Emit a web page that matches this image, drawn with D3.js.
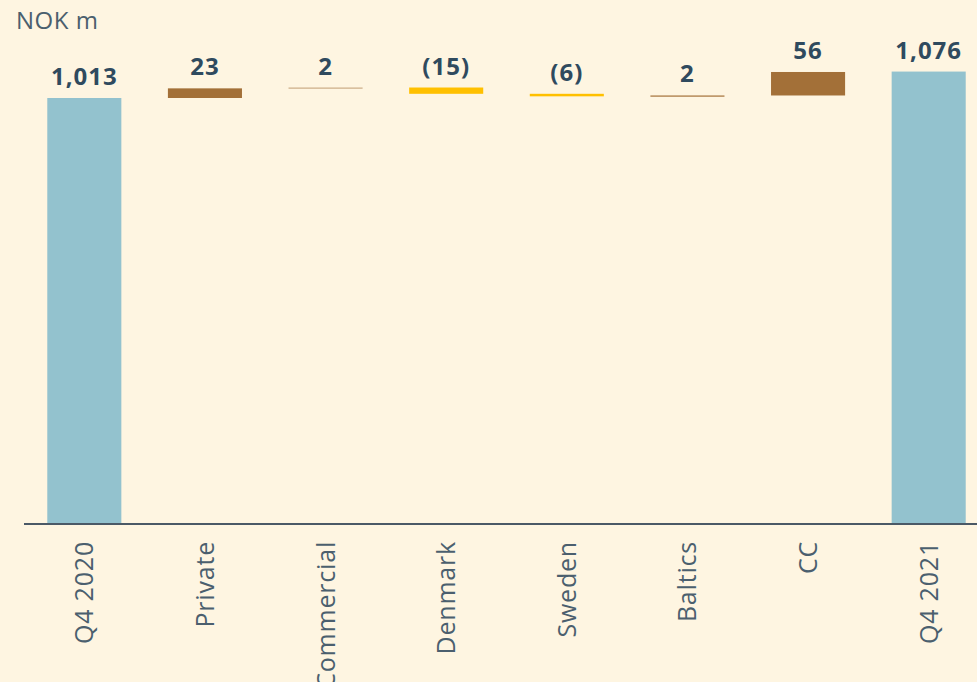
<!DOCTYPE html>
<html lang="en">
<head>
<meta charset="UTF-8">
<title>waterfall</title>
<script src="https://d3js.org/d3.v7.min.js"></script>
<style>
  body { margin: 0; background: #fef5e1; }
  svg { display: block; }
</style>
</head>
<body>
<svg width="977" height="682"></svg>
<script>
  // data
  var categories = ["Q4 2020", "Private", "Commercial", "Denmark", "Sweden", "Baltics", "CC", "Q4 2021"];
  var values = [1013, 23, 2, -15, -6, 2, 56, 1076];
  var kinds = ["total", "delta", "delta", "delta", "delta", "delta", "delta", "total"];
  var labels = ["1,013", "23", "2", "(15)", "(6)", "2", "56", "1,076"];
  var unitLabel = "NOK m";

  var colors = {
    total: "#93c2ce",
    up: "#a37038",
    down: "#ffc000"
  };

  var svg = d3.select("svg");
  var width = +svg.attr("width");
  var height = +svg.attr("height");
  var baseY = 523;

  // running totals for the floating bars
  var run = 0;
  var bars = categories.map(function (c, i) {
    var v = values[i], y0, y1;
    if (kinds[i] === "total") { y0 = 0; y1 = v; run = v; }
    else { y0 = run; y1 = run + v; run = y1; }
    return { name: c, value: v, kind: kinds[i], label: labels[i], lo: Math.min(y0, y1), hi: Math.max(y0, y1) };
  });

  var x = d3.scaleBand()
    .domain(categories)
    .range([24, 989])
    .paddingInner(0.386)
    .paddingOuter(0.193);

  var y = d3.scaleLinear()
    .domain([0, 1200])
    .range([baseY, baseY - 1200 * 425 / 1013]);

  svg.append("rect").attr("width", width).attr("height", height).attr("fill", "#fef5e1");

  svg.append("text")
    .attr("x", 16).attr("y", 29)
    .attr("font-family", "Open Sans, sans-serif")
    .attr("font-size", 24)
    .attr("letter-spacing", 0.5)
    .attr("fill", "#4b5f6e")
    .text(unitLabel);

  function barColor(d) {
    if (d.kind === "total") return colors.total;
    return d.value >= 0 ? colors.up : colors.down;
  }

  svg.append("g").selectAll("rect")
    .data(bars)
    .enter().append("rect")
    .attr("x", function (d) { return x(d.name); })
    .attr("width", x.bandwidth())
    .attr("y", function (d) { return y(d.hi); })
    .attr("height", function (d) { return Math.max(1.2, y(d.lo) - y(d.hi)); })
    .attr("fill", barColor)
    .attr("opacity", function (d) { return d.name === "Commercial" ? 0.55 : 1; });

  // value labels
  svg.append("g").selectAll("text")
    .data(bars)
    .enter().append("text")
    .attr("x", function (d) { return x(d.name) + x.bandwidth() / 2; })
    .attr("y", function (d) { return y(d.hi) - 13; })
    .attr("text-anchor", "middle")
    .attr("font-family", "Open Sans, sans-serif")
    .attr("font-weight", 700)
    .attr("font-size", 24)
    .attr("letter-spacing", 1)
    .attr("fill", "#2f4a5e")
    .text(function (d) { return d.label; });

  // x axis
  var axis = svg.append("g")
    .attr("transform", "translate(0," + baseY + ")")
    .call(d3.axisBottom(x).tickSize(0).tickPadding(0));
  axis.select(".domain").remove();
  axis.append("line")
    .attr("x1", 24).attr("x2", width)
    .attr("y1", 1).attr("y2", 1)
    .attr("stroke", "#4b5966").attr("stroke-width", 2);
  axis.selectAll(".tick text")
    .attr("transform", "rotate(-90)")
    .attr("x", -18).attr("y", 0)
    .attr("dy", "0.36em")
    .attr("text-anchor", "end")
    .attr("font-family", "Open Sans, sans-serif")
    .attr("font-size", 25)
    .attr("letter-spacing", 0.8)
    .attr("fill", "#4b5f6e");
</script>
</body>
</html>
